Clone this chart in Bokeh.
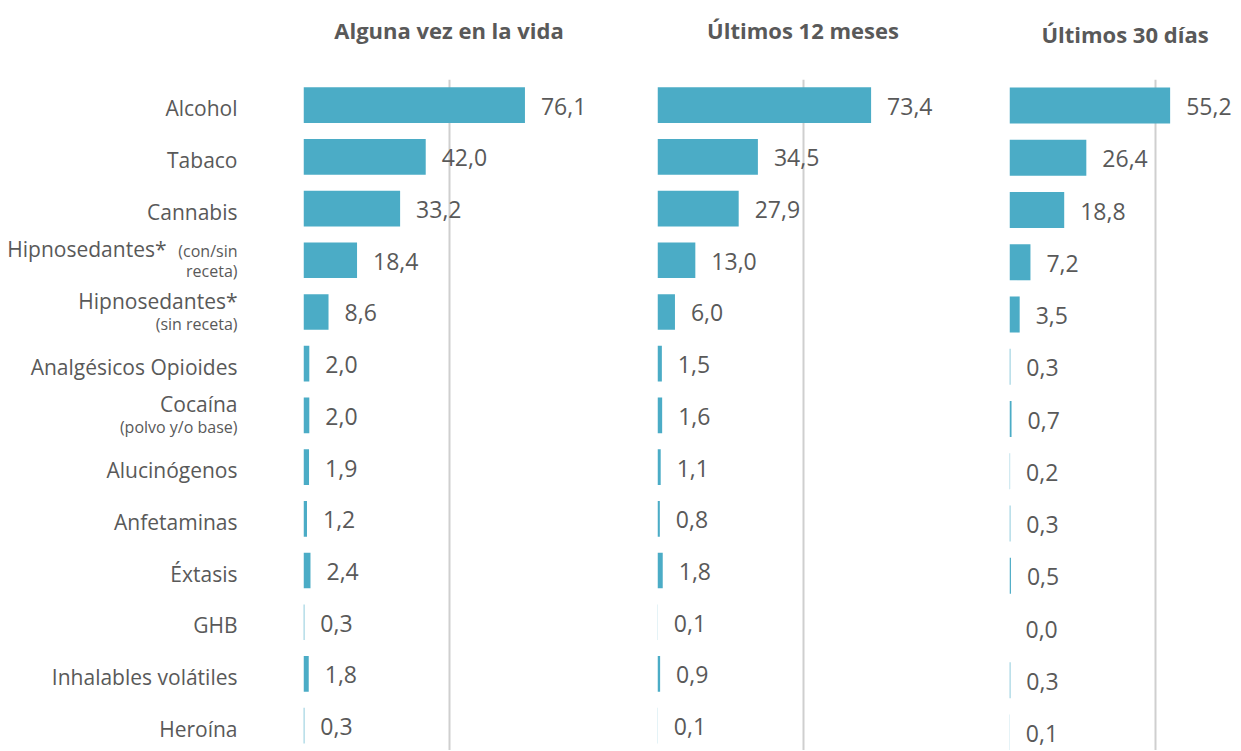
from bokeh.plotting import figure
from bokeh.models import ColumnDataSource, Grid, FixedTicker, Range1d
from bokeh.core.properties import value
from bokeh.layouts import row
from bokeh.embed import file_html
from bokeh.resources import INLINE

# ---------------- data ----------------
categories = ["Alcohol", "Tabaco", "Cannabis", "Hipnosedantes*", "Hipnosedantes*",
              "Analgésicos Opioides", "Cocaína", "Alucinógenos", "Anfetaminas",
              "Éxtasis", "GHB", "Inhalables volátiles", "Heroína"]
notes = ["", "", "", "(con/sin receta)", "(sin receta)", "", "(polvo y/o base)",
         "", "", "", "", "", ""]
panel_titles = ["Alguna vez en la vida", "Últimos 12 meses", "Últimos 30 días"]
vida = [76.1, 42.0, 33.2, 18.4, 8.6, 2.0, 2.0, 1.9, 1.2, 2.4, 0.3, 1.8, 0.3]
meses12 = [73.4, 34.5, 27.9, 13.0, 6.0, 1.5, 1.6, 1.1, 0.8, 1.8, 0.1, 0.9, 0.1]
dias30 = [55.2, 26.4, 18.8, 7.2, 3.5, 0.3, 0.7, 0.2, 0.3, 0.5, 0.0, 0.3, 0.1]
grid_ticks = [0, 50, 100]

# ---------------- style ----------------
BAR = "#4BACC6"
TXT = "#595959"
GRID = "#CFCFCF"
FONT = value("Open Sans")
PX_PER_UNIT = 2.91
H = 750
TOP12 = 70     # frame top (border) for panels 1-2 and label column
TOP3 = 79      # panel 3 sits a little lower
LAB_W = 303


def yrange(top, row_px):
    frame_h = H - top
    y_top = -26.0 / row_px
    return Range1d(y_top + frame_h / row_px, y_top)


def make_panel(values, title, border_left, frame_w, top, yr, standoff):
    xmax = frame_w / PX_PER_UNIT
    p = figure(width=border_left + frame_w, height=H, output_backend="svg",
               toolbar_location=None, x_axis_type=None, y_axis_type=None,
               x_range=Range1d(0, xmax), y_range=yr,
               min_border_left=border_left, min_border_right=0,
               min_border_top=top, min_border_bottom=0,
               outline_line_color=None, background_fill_color="white",
               border_fill_color="white", title=title + "\n")
    p.title.align = "center"
    p.title.text_font = "Open Sans"
    p.title.text_font_style = "bold"
    p.title.text_font_size = "22px"
    p.title.text_color = TXT
    p.title.standoff = standoff
    p.add_layout(Grid(dimension=0, ticker=FixedTicker(ticks=grid_ticks),
                      grid_line_color=GRID, grid_line_width=2))
    idx = list(range(len(categories)))
    src = ColumnDataSource(dict(y=idx, v=values,
                                lab=[f"{v:.1f}".replace(".", ",") for v in values]))
    p.hbar(y="y", left=0, right="v", height=0.69, source=src,
           fill_color=BAR, line_color=None)
    p.text(x="v", y="y", text="lab", source=src, x_offset=16, y_offset=1,
           text_align="left", text_baseline="middle",
           text_font=FONT, text_font_size="23px", text_color=TXT)
    return p


yr12 = yrange(TOP12, 52.4)
yr3 = yrange(TOP3, 52.25)
p1 = make_panel(vida, panel_titles[0], 0, 291, TOP12, yr12, 10)
p2 = make_panel(meses12, panel_titles[1], 63, 291, TOP12, yr12, 10)
p3 = make_panel(dias30, panel_titles[2], 61, 1240 - LAB_W - 291 - 354 - 61, TOP3, yr3, 1)

# category label column (shares the y scale of panel 1)
lab = figure(width=LAB_W, height=H, output_backend="svg", toolbar_location=None,
             x_axis_type=None, y_axis_type=None, x_range=Range1d(0, 1), y_range=yr12,
             min_border_left=0, min_border_right=0, min_border_top=TOP12,
             min_border_bottom=0, outline_line_color=None)
lab.grid.visible = False

main_y, main_dx, main_dy, main_t = [], [], [], []
sub_y, sub_dx, sub_dy, sub_t = [], [], [], []
for i, (c, n) in enumerate(zip(categories, notes)):
    if not n:
        main_y.append(i); main_dx.append(-66); main_dy.append(3); main_t.append(c)
    elif n == "(con/sin receta)":
        first, second = n.split(" ")
        main_y.append(i); main_dx.append(-137); main_dy.append(-11); main_t.append(c)
        sub_y += [i, i]; sub_dx += [-66, -66]; sub_dy += [-9, 11]; sub_t += [first, second]
    else:
        main_y.append(i); main_dx.append(-66); main_dy.append(-11); main_t.append(c)
        sub_y.append(i); sub_dx.append(-66); sub_dy.append(12); sub_t.append(n)

msrc = ColumnDataSource(dict(x=[1] * len(main_y), y=main_y, t=main_t, dx=main_dx, dy=main_dy))
ssrc = ColumnDataSource(dict(x=[1] * len(sub_y), y=sub_y, t=sub_t, dx=sub_dx, dy=sub_dy))
lab.text(x="x", y="y", text="t", source=msrc, x_offset="dx", y_offset="dy",
         text_align="right", text_baseline="middle",
         text_font=FONT, text_font_size="21px", text_color=TXT)
lab.text(x="x", y="y", text="t", source=ssrc, x_offset="dx", y_offset="dy",
         text_align="right", text_baseline="middle",
         text_font=FONT, text_font_size="16px", text_color=TXT)

layout = row(lab, p1, p2, p3, spacing=0)
open("out.html", "w").write(file_html(layout, INLINE))
